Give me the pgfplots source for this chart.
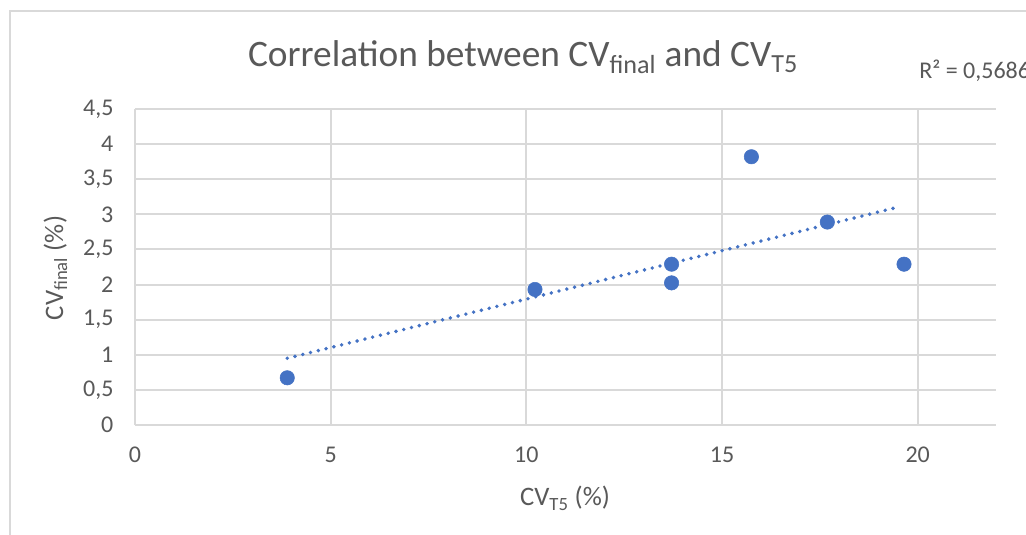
\documentclass[border=0pt]{standalone}
\usepackage{pgfplots}
\pgfplotsset{compat=1.18}
\usepackage{fontspec}
\setmainfont{Carlito}
\definecolor{txt}{HTML}{595959}
\definecolor{gridc}{HTML}{D9D9D9}
\definecolor{ptc}{HTML}{4472C4}
\begin{document}
\begin{tikzpicture}[x=0.75pt,y=0.75pt]
\useasboundingbox (0,0) rectangle (1026,535);
\clip (0,0) rectangle (1026,535);
\fill[white] (0,0) rectangle (1026,535);
\draw[gridc, line width=1.5pt] (9.5,-5) -- (9.5,524) -- (1030,524);
\begin{axis}[
  at={(101.25pt,82.5pt)}, anchor=south west, scale only axis,
  width=645.75pt, height=237pt,
  xmin=0, xmax=22, ymin=0, ymax=4.5,
  xtick={0,5,10,15,20}, ytick={0,0.5,1,1.5,2,2.5,3,3.5,4,4.5},
  grid=major, major grid style={gridc, line width=1.5pt},
  axis lines*=left,
  axis line style={gridc, line width=1.5pt},
  tick style={draw=none},
  /pgf/number format/.cd, use comma, 1000 sep={}, assume math mode=true,
  /pgfplots/.cd,
  ticklabel style={font=\fontsize{18}{20}\selectfont, text=txt},
  yticklabel style={anchor=east, inner sep=0pt, xshift=-16pt},
  xticklabel style={anchor=north, inner sep=0pt, yshift=-16.5pt},
  clip=false,
]
\addplot[ptc, line width=2.9pt, line cap=round, dash pattern=on 0pt off 6pt] coordinates {(3.89,0.95) (19.55,3.11)};
\addplot[only marks, mark=*, mark size=5.4pt, mark options={draw=ptc, fill=ptc}] coordinates {
(3.89,0.672) (10.22,1.93) (13.71,2.29) (13.71,2.024) (15.75,3.82) (17.69,2.89) (19.65,2.29)};
\end{axis}
\node[anchor=base, text=txt, font=\fontsize{28}{32}\selectfont, inner sep=0pt] at (523,468) {Correlation between CV\textsubscript{final} and CV\textsubscript{T5}};
\node[anchor=base west, text=txt, font=\fontsize{18}{20}\selectfont, inner sep=0pt] at (919,456) {R² = 0,5686};
\node[anchor=base, text=txt, font=\fontsize{20}{24}\selectfont, inner sep=0pt] at (565,29) {CV\textsubscript{T5} (\%)};
\node[anchor=base, rotate=90, text=txt, font=\fontsize{20}{24}\selectfont, inner sep=0pt] at (63,267) {CV\textsubscript{final} (\%)};
\end{tikzpicture}
\end{document}
